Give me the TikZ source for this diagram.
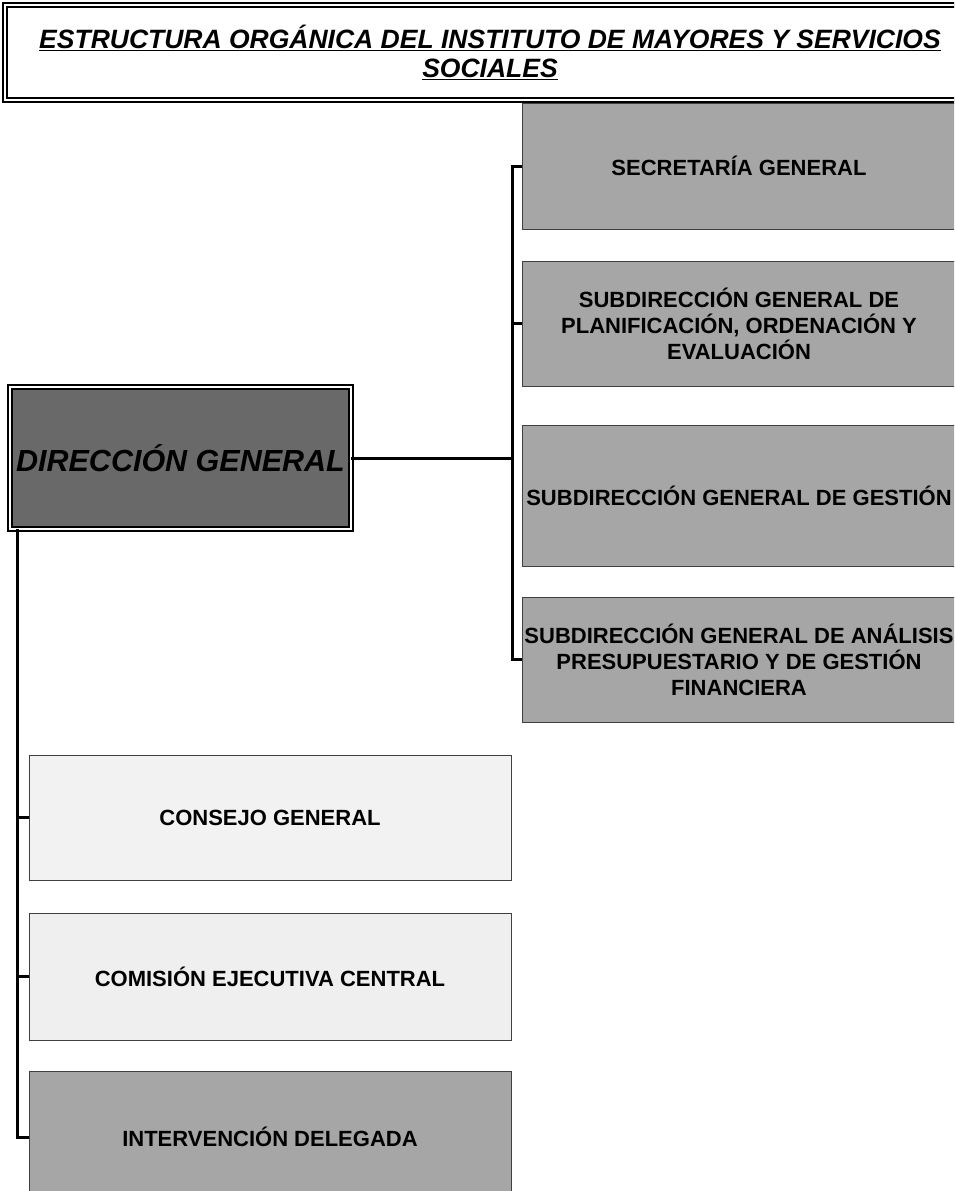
\documentclass[tikz,border=0pt]{standalone}
\usepackage{fontspec}
\setmainfont{Liberation Sans}
\usetikzlibrary{calc}
\definecolor{midgray}{HTML}{A6A6A6}
\definecolor{darkgray}{HTML}{696969}
\definecolor{palegray}{HTML}{F2F2F2}
\definecolor{palegrayb}{HTML}{EFEFEF}
\newcommand{\unitcolor}{midgray}
\newcommand{\linew}{3pt}
\newcommand{\unitfont}{\fontsize{22}{26}\selectfont\bfseries}

\begin{document}
\begin{tikzpicture}[x=1pt,y=-1pt,
  unit/.style={draw=black!75,line width=0.8pt,anchor=north west,inner sep=0pt,outer sep=0pt,align=center,font=\unitfont},
  conn/.style={line width=\linew}]
\clip (0,0) rectangle (954,1191);
\fill[white] (0,0) rectangle (954,1191);
%title
\node[draw,double,double distance=2pt,line width=2pt,anchor=north west,minimum width=970,minimum height=95,inner sep=0pt,align=center,font=\fontsize{26.5}{29}\selectfont\bfseries\itshape] (title) at (4,4) {\underline{ESTRUCTURA ORGÁNICA DEL INSTITUTO DE MAYORES Y SERVICIOS}\\\underline{SOCIALES}};
%direccion
\node[draw,fill=darkgray,double,double distance=2pt,line width=2pt,anchor=north west,minimum width=341,minimum height=142,inner sep=0pt,outer sep=0pt,font=\fontsize{30.5}{34}\selectfont\bfseries\itshape] (dg) at (10,387) {DIRECCIÓN GENERAL};
%derecha
\node[unit,fill=\unitcolor,minimum width=434,minimum height=126] (secr) at (522,103) {SECRETARÍA GENERAL};
\node[unit,fill=\unitcolor,minimum width=434,minimum height=125] (plan) at (522,261) {SUBDIRECCIÓN GENERAL DE\\PLANIFICACIÓN, ORDENACIÓN Y\\EVALUACIÓN};
\node[unit,fill=\unitcolor,minimum width=434,minimum height=141] (gest) at (522,425) {SUBDIRECCIÓN GENERAL DE GESTIÓN};
\node[unit,fill=\unitcolor,minimum width=434,minimum height=125] (anal) at (522,597) {SUBDIRECCIÓN GENERAL DE ANÁLISIS\\PRESUPUESTARIO Y DE GESTIÓN\\FINANCIERA};
%izquierda
\node[unit,fill=palegray,minimum width=482,minimum height=125] (cons) at (29,755) {CONSEJO GENERAL};
\node[unit,fill=palegrayb,minimum width=482,minimum height=127] (comi) at (29,913) {COMISIÓN EJECUTIVA CENTRAL};
\node[unit,fill=\unitcolor,minimum width=482,minimum height=132] (interv) at (29,1071) {INTERVENCIÓN DELEGADA};
%lineas
\coordinate (rbus) at (512,0);
\coordinate (lbus) at (17,0);
\draw[conn] (secr.west) -- (secr.west -| rbus) -- (anal.west -| rbus) -- (anal.west);
\draw[conn] (plan.west) -- (plan.west -| rbus);
\draw[conn] (dg.east) -- (dg.east -| rbus);
\draw[conn] (dg.south -| lbus) -- (interv.west -| lbus) -- (interv.west);
\draw[conn] (cons.west) -- (cons.west -| lbus);
\draw[conn] (comi.west) -- (comi.west -| lbus);
\end{tikzpicture}
\end{document}
